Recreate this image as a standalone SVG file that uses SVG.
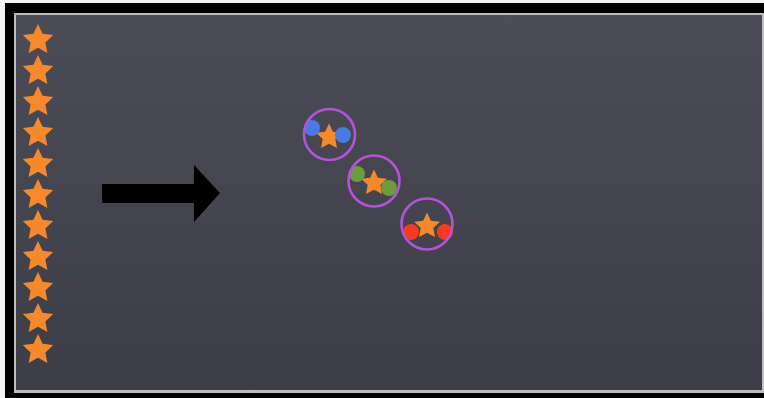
<svg xmlns="http://www.w3.org/2000/svg" xmlns:xlink="http://www.w3.org/1999/xlink" width="764" height="398" viewBox="0 0 764 398">
<style>
.star{fill:#f5892b}
.ring{fill:none;stroke:#b552d8;stroke-width:2.6}
.blue{fill:#4a7ae6}
.green{fill:#6b9d3f}
.red{fill:#f23c1f}
</style>
<defs>
<linearGradient id="bg" x1="0" y1="0" x2="0" y2="1">
<stop offset="0" stop-color="#4b4c57"/>
<stop offset="1" stop-color="#3c3d46"/>
</linearGradient>
<path id="st" d="M0,-16 L4.58,-6.31 L15.22,-4.94 L7.42,2.41 L9.4,12.94 L0,7.8 L-9.4,12.94 L-7.42,2.41 L-15.22,-4.94 L-4.58,-6.31 Z"/>
</defs>
<rect x="0" y="0" width="764" height="398" fill="#f4f4f4"/>
<rect x="5" y="3" width="759" height="395" fill="#000"/>
<rect x="14" y="13" width="750" height="380" fill="#bdbdbd"/>
<rect x="16" y="15" width="746" height="375" fill="url(#bg)"/>
<g id="star-column">
<use href="#st" class="star" x="38" y="40"/>
<use href="#st" class="star" x="38" y="71"/>
<use href="#st" class="star" x="38" y="102"/>
<use href="#st" class="star" x="38" y="133"/>
<use href="#st" class="star" x="38" y="164"/>
<use href="#st" class="star" x="38" y="195"/>
<use href="#st" class="star" x="38" y="226"/>
<use href="#st" class="star" x="38" y="257"/>
<use href="#st" class="star" x="38" y="288"/>
<use href="#st" class="star" x="38" y="319"/>
<use href="#st" class="star" x="38" y="350"/>
</g>
<g id="connectors">
<path d="M102,184 L194,184 L194,165 L220,193 L194,222 L194,203 L102,203 Z" fill="#000"/>
</g>
<g id="node-blue">
<use href="#st" class="star" transform="translate(329,137) scale(0.85)"/>
<circle class="blue" cx="312" cy="128" r="8"/>
<circle class="blue" cx="343" cy="135" r="8"/>
<circle class="ring" cx="329.5" cy="134.5" r="25.5"/>
</g>
<g id="node-green">
<use href="#st" class="star" transform="translate(374,183) scale(0.85)"/>
<circle class="green" cx="357" cy="174" r="8"/>
<circle class="green" cx="389" cy="188" r="8"/>
<circle class="ring" cx="374" cy="181" r="25.5"/>
</g>
<g id="node-red">
<use href="#st" class="star" transform="translate(427,226) scale(0.85)"/>
<circle class="red" cx="411" cy="232" r="8"/>
<circle class="red" cx="445" cy="232" r="8"/>
<circle class="ring" cx="427" cy="224" r="25.5"/>
</g>
</svg>
